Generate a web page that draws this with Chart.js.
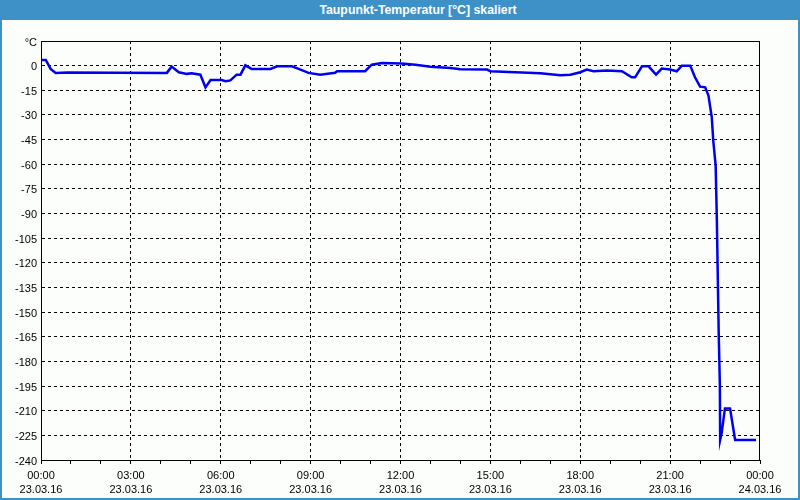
<!DOCTYPE html>
<html>
<head>
<meta charset="utf-8">
<script src="https://cdn.jsdelivr.net/npm/chart.js@4/dist/chart.umd.min.js"></script>
<style>
  body { margin: 0; background: #fff; }
  #win {
    position: relative; width: 800px; height: 500px; box-sizing: border-box;
    background: #fcfefc; border: 2px solid #3d91c7; border-top: none;
  }
  #title {
    position: absolute; left: -2px; top: 0; width: 800px; height: 20px; box-sizing: border-box;
    padding-left: 36px;
    background: #3d91c7; color: #fff; text-align: center;
    font: bold 12.3px "Liberation Sans", Arial, sans-serif; line-height: 21px;
  }
  #chart { position: absolute; left: -2px; top: 20px; }
</style>
</head>
<body>
<div id="win">
  <div id="title">Taupunkt-Temperatur [°C] skaliert</div>
  <canvas id="chart" width="800" height="478"></canvas>
</div>
<script>
// Dew point readings, time in hours since 23.03.16 00:00
const hours = [0, 0.16, 0.32, 0.49, 0.87, 4.2, 4.36, 4.6, 4.87, 5.03, 5.32, 5.49, 5.66,
  6.03, 6.16, 6.32, 6.53, 6.66, 6.82, 7.03, 7.66, 7.88, 8.37, 8.6, 8.93, 9.32, 9.82, 9.88,
  10.82, 11.04, 11.38, 12.03, 12.5, 13.0, 13.67, 14.0, 14.89, 15.0, 15.83, 16.67, 17.33,
  17.67, 18.0, 18.22, 18.44, 18.89, 19.39, 19.72, 19.83, 20.06, 20.28, 20.53, 20.72, 21.0,
  21.22, 21.39, 21.67, 21.83, 22.0, 22.17, 22.28, 22.39, 22.44, 22.52, 22.56, 22.59, 22.62,
  22.66, 22.67, 22.72, 22.83, 23.0, 23.17, 23.87];
const dewPoint = [3.5, 3.5, -2, -4.5, -4.2, -4.4, -0.6, -4, -5, -4.7, -5.5, -13.2, -8.7,
  -8.7, -9.5, -9, -5.5, -5.5, 0.2, -2, -2, -0.4, -0.4, -2, -4.4, -5.5, -4.3, -3.4,
  -3.4, 0.6, 1.6, 1.3, 0.6, -0.6, -1.4, -2.2, -2.4, -3.4, -4, -4.7, -5.9,
  -5.5, -4, -2.4, -3.4, -3, -3.4, -7.1, -7.1, -0.4, -0.4, -5.5, -1.8, -2.4,
  -3.4, 0, 0, -7.1, -12.8, -13.2, -18.2, -31.4, -45.6, -60.8, -94, -127.6, -161,
  -194.4, -227.8, -223.6, -208.6, -208.6, -227.8, -227.8];

// x tick labels every 3 hours
const tickTimes = ['00:00', '03:00', '06:00', '09:00', '12:00', '15:00', '18:00', '21:00', '00:00'];
const tickDates = ['23.03.16', '23.03.16', '23.03.16', '23.03.16', '23.03.16', '23.03.16', '23.03.16', '23.03.16', '24.03.16'];
const yUnit = '°C';

const tickFont = { family: '"Liberation Sans", Arial, sans-serif', size: 11, lineHeight: 1.28 };

// solid frame round the plot area
const framePlugin = {
  id: 'frame',
  afterDraw(chart) {
    const a = chart.chartArea, ctx = chart.ctx;
    ctx.save();
    ctx.strokeStyle = '#000';
    ctx.lineWidth = 1;
    ctx.strokeRect(Math.round(a.left) + 0.5, Math.round(a.top) + 0.5,
      Math.round(a.right - a.left) - 1, Math.round(a.bottom - a.top));
    ctx.restore();
  }
};

new Chart(document.getElementById('chart'), {
  type: 'line',
  data: {
    datasets: [{
      data: hours.map((h, i) => ({ x: h, y: dewPoint[i] })),
      borderColor: '#0000f0',
      borderWidth: 2.5,
      pointRadius: 0,
      tension: 0,
      fill: false
    }]
  },
  options: {
    responsive: false,
    animation: false,
    layout: { padding: { left: 0, top: 21, right: 40, bottom: 0 } },
    plugins: { legend: { display: false }, tooltip: { enabled: false } },
    scales: {
      x: {
        type: 'linear',
        min: 0,
        max: 24,
        afterFit(scale) { scale.height = 38; },
        ticks: {
          stepSize: 1,
          autoSkip: false,
          maxRotation: 0,
          padding: 5,
          color: '#000',
          font: tickFont,
          callback(v) {
            if (v % 3 !== 0) return '';
            const i = v / 3;
            return [tickTimes[i], tickDates[i]];
          }
        },
        grid: {
          color: c => (c.tick && c.tick.value % 3 === 0 && c.tick.value > 0 && c.tick.value < 24) ? '#000' : 'rgba(0,0,0,0)',
          tickColor: '#000',
          tickLength: 4,
          lineWidth: 1
        },
        border: { display: true, color: '#000', width: 1, dash: [3, 3] }
      },
      y: {
        min: -240,
        max: 15,
        afterFit(scale) { scale.width = 41; },
        ticks: {
          stepSize: 15,
          padding: 4,
          labelOffset: 1.5,
          color: '#000',
          font: tickFont,
          callback: v => v === 15 ? yUnit : v
        },
        grid: {
          color: c => (c.tick && c.tick.value < 15) ? '#000' : 'rgba(0,0,0,0)',
          drawTicks: false,
          lineWidth: 1
        },
        border: { display: true, color: '#000', width: 1, dash: [3, 3] }
      }
    }
  },
  plugins: [framePlugin]
});
</script>
</body>
</html>
